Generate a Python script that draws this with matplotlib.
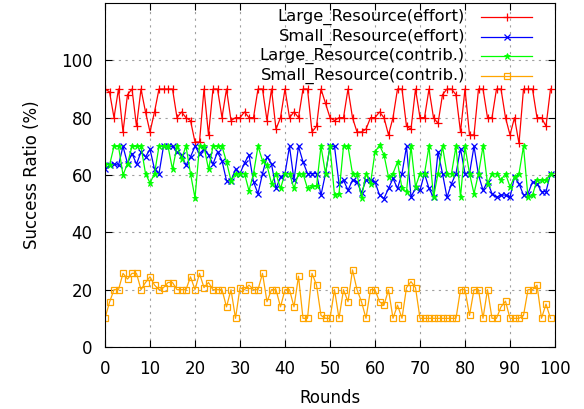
import matplotlib
matplotlib.use("Agg")
import matplotlib.pyplot as plt
from matplotlib.lines import Line2D
import numpy as np

rounds = np.arange(100)

large_effort = [90, 89, 80, 90, 75, 88, 90, 77, 90, 82, 75, 82, 90, 90, 90, 90, 80, 82, 80, 79,
                71.5, 71.5, 90, 74, 90, 90, 80, 90, 79, 80, 80, 82, 80, 80, 90, 90, 79, 90, 76, 80,
                90, 80, 82, 80, 90, 90, 75, 77, 90, 85, 80, 79, 80, 80, 90, 80, 75, 75, 76, 80,
                80, 82, 80, 74, 80, 90, 90, 77, 76, 90, 80, 80, 90, 80, 78, 88, 90, 90, 88, 75,
                90, 74, 74, 90, 90, 80, 80, 90, 90, 80, 74, 80, 71, 90, 90, 90, 80, 80, 77, 90]

small_effort = [62, 63.4, 63.8, 63.4, 70, 64, 67.5, 63.8, 68, 66.3, 69, 62, 60.5, 70, 70, 70, 68, 67, 63.4, 66.3,
                70, 67.5, 69, 67, 63.8, 68, 65, 58, 58, 62, 60.5, 64.2, 67, 57.6, 53.5, 60.5, 66.3, 63.8, 55.3, 59.3,
                60.5, 70, 58.2, 70, 64.6, 60.5, 60.5, 60.5, 53, 60.5, 70, 70, 57, 58.2, 54.7, 58.2, 57.6, 53.8, 58.2, 58.2,
                57.6, 53, 51.8, 55.3, 58.8, 55.3, 60.5, 70, 52.4, 55.3, 54.7, 60.5, 55.3, 52.2, 68, 60.5, 52.2, 57, 60.5, 69.2,
                60.5, 60.5, 70, 60, 54.7, 57.6, 53.5, 52.2, 53, 53, 52.2, 59.3, 57, 53, 53.5, 57.6, 57, 54.2, 54.2, 60.5]

large_contrib = [64, 63.4, 70, 70, 60, 64, 70, 70, 70, 60.5, 57.2, 60.5, 70, 70, 70, 62, 70, 65.7, 70, 60.5,
                 52, 70, 70, 62, 70, 70, 70, 64.6, 58, 60.5, 60.5, 60.5, 54.5, 60.5, 70, 65, 63.4, 57, 60.5, 55.3,
                 60.5, 60.5, 55.3, 60.5, 60.5, 55.3, 56, 56, 70, 60.5, 70, 53, 53.5, 70, 70, 60.5, 60.5, 52, 60.5, 57,
                 68, 70.4, 67, 59.3, 60.5, 64.6, 55.3, 54.2, 70, 55.9, 60.5, 60.5, 70, 52.2, 60.5, 70, 60.5, 60.5, 70, 52.2,
                 70, 60.5, 53.5, 60.5, 70, 57, 60.5, 60.5, 58.2, 60.5, 55.9, 59.3, 60.5, 70, 52.2, 53, 58.2, 58.2, 58.2, 60.5]

small_contrib = [10, 15.6, 20, 20, 25.7, 23.7, 25.7, 25.7, 20, 22.5, 24.5, 21.6, 20, 20.7, 22.5, 22.5, 20, 20, 20, 24.5,
                 20, 25.7, 20.7, 22.5, 20, 20, 20, 14, 20, 10, 20.7, 20, 21.6, 20, 20, 25.7, 15.8, 20, 20, 14,
                 20, 20, 14, 24.7, 10, 10, 25.7, 21.6, 11, 10, 10, 20, 10, 20, 15.8, 26.9, 20, 15.8, 10, 20,
                 20, 15.8, 14.6, 20, 10, 14.6, 10, 20.7, 22.8, 20.7, 10, 10, 10, 10, 10, 10, 10, 10, 10, 20,
                 20, 11, 20, 20, 10, 20, 10, 10, 14, 16, 10, 10, 10, 11, 20, 20, 21.6, 10, 15, 10]

W, H = 584, 409
fig = plt.figure(figsize=(W / 100, H / 100), dpi=100)
ax = fig.add_axes([105 / W, 1 - 347 / H, 450 / W, 344 / H])

series = [
    (large_effort, 'Large_Resource(effort)', dict(color='#ff0000', marker='+', ms=5.5, mew=0.9)),
    (small_effort, 'Small_Resource(effort)', dict(color='#0000ff', marker='x', ms=4, mew=0.9)),
    (large_contrib, 'Large_Resource(contrib.)', dict(color='#00ff00', marker='*', ms=5, mew=0.6)),
    (small_contrib, 'Small_Resource(contrib.)', dict(color='#ffa500', marker='s', ms=4, mew=0.9, mfc='none')),
]

for vals, name, style in series:
    ax.plot(rounds, vals, lw=0.9, **style)

ax.set_xlim(0, 100)
ax.set_ylim(0, 120)
ax.set_xticks(np.arange(0, 101, 10))
ax.set_yticks(np.arange(0, 101, 20))
ax.tick_params(direction='in', top=True, right=True, labelsize=12, length=5, pad=9)
ax.grid(True, color='#a0a0a0', linestyle=(0, (2, 4)), linewidth=0.8)
ax.set_xlabel('Rounds', fontsize=12, labelpad=8)
ax.set_ylabel('Success Ratio (%)', fontsize=12, labelpad=14)

# gnuplot-style key: right-aligned text, sample line to the right
key_rows = [17, 37, 56, 76]
for (vals, name, style), ypx in zip(series, key_rows):
    yf = 1 - ypx / H
    fig.text(465 / W, yf, name, ha='right', va='center', fontsize=11.8)
    fig.add_artist(Line2D([481 / W, 532 / W], [yf, yf], transform=fig.transFigure,
                          color=style['color'], lw=0.9))
    fig.add_artist(Line2D([506.5 / W], [yf], transform=fig.transFigure, lw=0, **style))

fig.savefig('out.png', dpi=100)
